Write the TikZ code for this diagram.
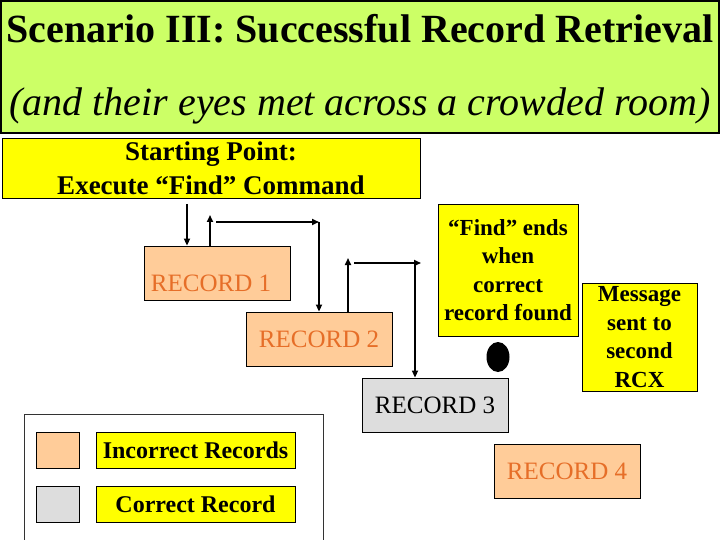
\documentclass[tikz,border=0pt]{standalone}
\usepackage{fontspec}
\setmainfont{Liberation Serif}
\usepackage{xcolor}
\usetikzlibrary{arrows.meta,shapes.geometric}

\definecolor{bannergreen}{RGB}{204,255,102}
\definecolor{noteyellow}{RGB}{255,255,0}
\definecolor{peach}{RGB}{255,204,153}
\definecolor{recgrey}{RGB}{221,221,221}
\definecolor{recorange}{RGB}{230,110,40}

\begin{document}
\begin{tikzpicture}[x=1pt,y=-1pt,
  box/.style={draw=black,line width=0.8pt,inner sep=0pt,align=center},
  note/.style={box,fill=noteyellow,font=\fontsize{23}{28.5}\selectfont\bfseries},
  record/.style={box,fill=peach,text=recorange,minimum width=146pt,minimum height=54pt,font=\fontsize{25}{30}\selectfont},
  swatch/.style={box,minimum width=43pt,minimum height=36pt},
  keylabel/.style={box,fill=noteyellow,minimum width=199pt,minimum height=36pt,font=\fontsize{24}{28}\selectfont\bfseries},
  flow/.style={line width=1.6pt,-{Triangle[width=6pt,length=7pt]}}]
\useasboundingbox (0,0) rectangle (720,540);

% banner
\node[box,fill=bannergreen,line width=1.5pt,minimum width=718pt,minimum height=132pt] (banner) at (360,67) {};
\node[anchor=base,font=\fontsize{40}{48}\selectfont\bfseries] (title) at (360,43) {Scenario III: Successful Record Retrieval};
\node[anchor=base,font=\fontsize{40}{48}\selectfont\itshape] (subtitle) at (360,116) {(and their eyes met across a crowded room)};

% boxes
\node[box,fill=noteyellow,minimum width=418pt,minimum height=60pt,font=\fontsize{27}{34}\selectfont\bfseries] (start) at (211,168) {Starting Point:\\Execute “Find” Command};
\node[record,minimum height=0pt,text height=45pt,text depth=9pt] (rec1) at (217,273) {RECORD 1\hspace{12pt}};
\node[record] (rec2) at (319,339) {RECORD 2};
\node[record,fill=recgrey,text=black] (rec3) at (435,405) {RECORD 3};
\node[record] (rec4) at (567,471) {RECORD 4};
\node[note,minimum width=140pt,minimum height=132pt] (findend) at (508,270) {“Find” ends\\when\\correct\\record found};
\node[note,minimum width=115pt,minimum height=108pt] (msg) at (639.5,337) {Message\\sent to\\second\\RCX};
\node[ellipse,fill=black,minimum width=23pt,minimum height=30pt,inner sep=0pt] (dot) at (498,357) {};

% legend
\draw[line width=0.6pt,black!80] (24,541) -- (24,414) -- (323,414) -- (323,541);
\node[swatch,fill=peach] (swinc) at (57.5,450) {};
\node[swatch,fill=recgrey] (swcor) at (57.5,504) {};
\node[keylabel] (labinc) at (195.5,450) {Incorrect Records};
\node[keylabel] (labcor) at (195.5,504) {Correct Record};

% search path
\coordinate (a0) at (187,204);
\draw[flow] (a0) -- (a0 |- rec1.north);
\coordinate (b0) at (210,215);
\coordinate (b1) at (216,222);
\coordinate (b2) at (319,222);
\draw[flow] (b0 |- rec1.north) -- (b0);
\draw[flow] (b1) -- (b2);
\draw[flow] (b2) -- (b2 |- rec2.north);
\coordinate (c0) at (348,258);
\coordinate (c1) at (354,263);
\coordinate (c2) at (421,263);
\coordinate (c3) at (415,265);
\draw[flow] (c0 |- rec2.north) -- (c0);
\draw[flow] (c1) -- (c2);
\draw[flow] (c3) -- (c3 |- rec3.north);
\end{tikzpicture}
\end{document}
